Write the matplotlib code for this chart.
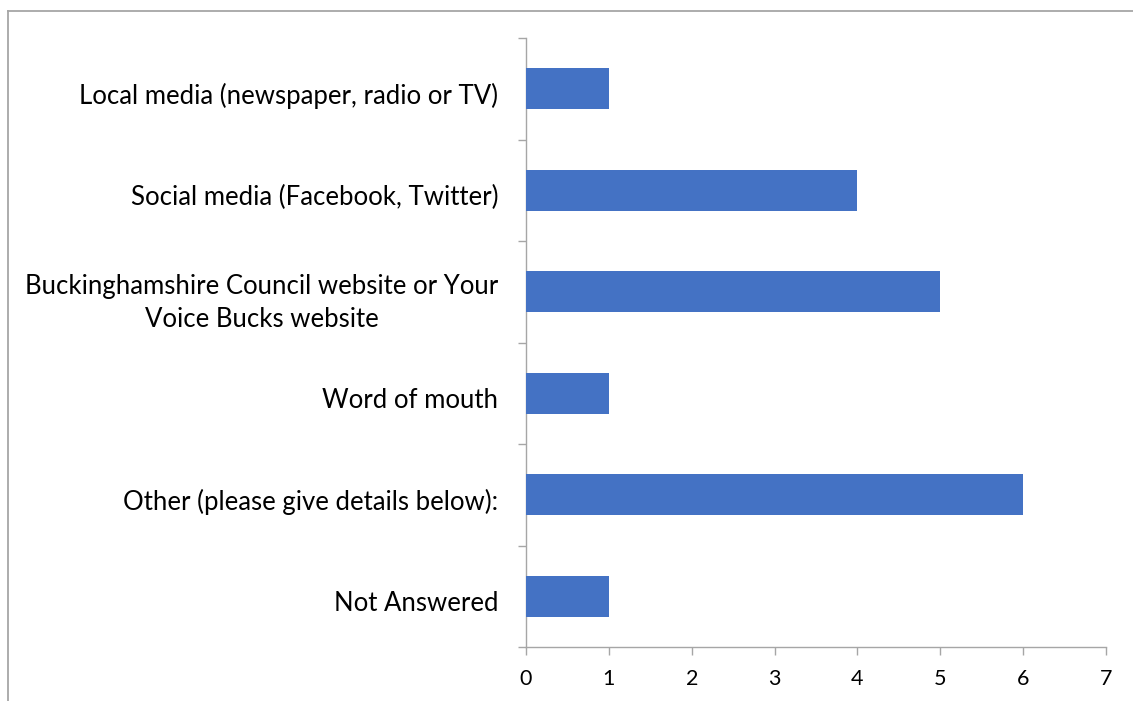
import matplotlib
matplotlib.use("Agg")
import matplotlib.pyplot as plt
from matplotlib.lines import Line2D
from matplotlib.transforms import ScaledTranslation

categories = [
    "Local media (newspaper, radio or TV)",
    "Social media (Facebook, Twitter)",
    "Buckinghamshire Council website or Your\nVoice Bucks website",
    "Word of mouth",
    "Other (please give details below):",
    "Not Answered",
]
values = [1, 4, 5, 1, 6, 1]
xticks = [0, 1, 2, 3, 4, 5, 6, 7]

plt.rcParams['font.family'] = ['Lato', 'DejaVu Sans']
axis_color = "#A6A6A6"

fig = plt.figure(figsize=(11.33, 7.01), dpi=100)
ax = fig.add_axes([526/1133, 1-647/701, (1106-526)/1133, (647-38)/701])

ypos = list(range(len(categories)))[::-1]
ax.barh(ypos, values, height=0.4, color="#4472C4", zorder=3)

ax.set_xlim(0, 7)
ax.set_ylim(-0.5, len(categories) - 0.5)
ax.set_xticks(xticks)
ax.set_xticklabels([str(t) for t in xticks], fontsize=15.5, color="#000000")
ax.set_yticks(ypos)
ax.set_yticklabels(categories, fontsize=18.5, multialignment="center", linespacing=1.4)
ax.yaxis.set_ticks([i - 0.5 for i in range(len(categories) + 1)], minor=True)
ax.tick_params(axis='y', which='major', length=0, pad=20)
ax.tick_params(axis='y', which='minor', length=6, width=1, color=axis_color, direction='out')
ax.tick_params(axis='x', length=6, width=1, color=axis_color, direction='out', pad=10)

offset = ScaledTranslation(0, -5/100, fig.dpi_scale_trans)
for lbl in ax.get_yticklabels():
    lbl.set_transform(lbl.get_transform() + offset)

for s in ["top", "right"]:
    ax.spines[s].set_visible(False)
for s in ["left", "bottom"]:
    ax.spines[s].set_color(axis_color)
    ax.spines[s].set_linewidth(1)

# outer chart border (left and top visible)
fig.add_artist(Line2D([8/1133, 8/1133], [0, 1-11/701], transform=fig.transFigure, color="#A6A6A6", lw=1.3))
fig.add_artist(Line2D([8/1133, 1], [1-11/701, 1-11/701], transform=fig.transFigure, color="#A6A6A6", lw=1.3))

fig.savefig("out.png", dpi=100)
